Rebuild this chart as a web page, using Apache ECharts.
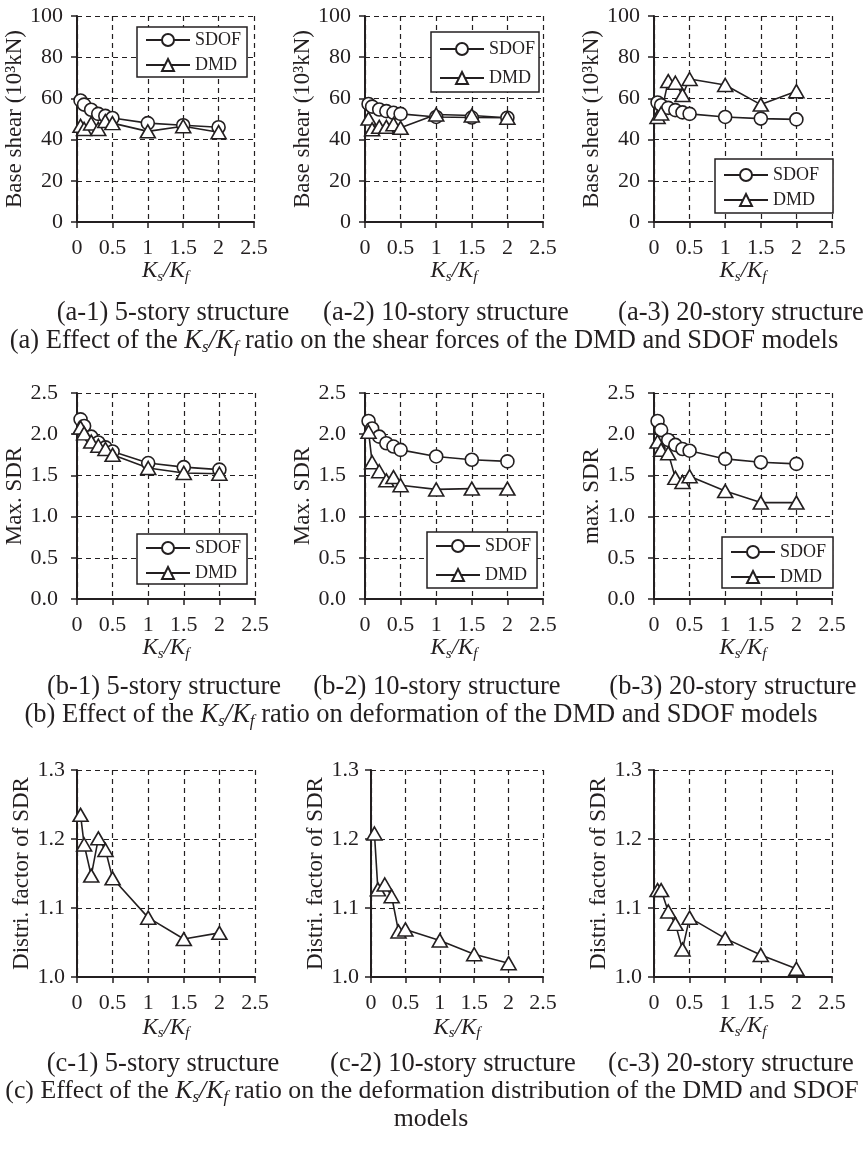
<!DOCTYPE html>
<html>
<head>
<meta charset="utf-8">
<script src="https://cdn.jsdelivr.net/npm/echarts@6/dist/echarts.min.js"></script>
<style>
html, body { margin: 0; padding: 0; background: #fff; }
#main { width: 863px; height: 1150px; }
</style>
</head>
<body>
<div id="main"></div>
<script>
var FONT = '"Liberation Serif", "Times New Roman", serif';
var INK = '#231f20';

// Ks/Kf ratios used in every panel
var ksKf = [0.05, 0.1, 0.2, 0.3, 0.4, 0.5, 1, 1.5, 2];

// (a) base shear, 10^3 kN
var shear5Sdof = [59, 57, 54.5, 52.5, 51.5, 50.5, 48, 47, 46];
var shear5Dmd = [46.7, 45.2, 47.8, 45.2, 49, 48, 44, 46.5, 43.6];
var shear10Sdof = [57.3, 56, 54.6, 53.8, 53, 52.5, 51, 50.7, 50.6];
var shear10Dmd = [50.2, 45, 46.2, 46.2, 47.5, 45.7, 52.2, 51.7, 50.6];
var shear20Sdof = [58, 56.7, 55.4, 54.3, 53.2, 52.5, 51, 50.2, 49.8];
var shear20Dmd = [51, 52.7, 68.4, 67.6, 61.6, 69.4, 66.5, 57, 63.5];

// (b) max. story drift ratio
var sdr5Sdof = [2.18, 2.10, 1.97, 1.90, 1.84, 1.79, 1.65, 1.60, 1.57];
var sdr5Dmd = [2.08, 2.01, 1.91, 1.86, 1.82, 1.75, 1.59, 1.53, 1.52];
var sdr10Sdof = [2.16, 2.07, 1.97, 1.89, 1.85, 1.81, 1.73, 1.69, 1.67];
var sdr10Dmd = [2.03, 1.66, 1.55, 1.44, 1.48, 1.38, 1.33, 1.34, 1.34];
var sdr20Sdof = [2.16, 2.05, 1.93, 1.87, 1.82, 1.80, 1.70, 1.66, 1.64];
var sdr20Dmd = [1.91, 1.81, 1.77, 1.47, 1.42, 1.49, 1.31, 1.17, 1.17];

// (c) distribution factor of SDR (DMD only)
var dist5Dmd = [1.235, 1.192, 1.147, 1.201, 1.184, 1.143, 1.086, 1.055, 1.064];
var dist10Dmd = [1.208, 1.127, 1.134, 1.117, 1.066, 1.069, 1.053, 1.033, 1.020];
var dist20Dmd = [1.126, 1.126, 1.095, 1.077, 1.040, 1.086, 1.056, 1.032, 1.012];

var subCaptions = [
	'(a-1) 5-story structure', '(a-2) 10-story structure', '(a-3) 20-story structure',
	'(b-1) 5-story structure', '(b-2) 10-story structure', '(b-3) 20-story structure',
	'(c-1) 5-story structure', '(c-2) 10-story structure', '(c-3) 20-story structure'
];
var kText = '{i|K}{sub|s}{i|/K}{sub|f}';
var mainCaptions = [
	'(a) Effect of the ' + kText + ' ratio on the shear forces of the DMD and SDOF models',
	'(b) Effect of the ' + kText + ' ratio on deformation of the DMD and SDOF models',
	'(c) Effect of the ' + kText + ' ratio on the deformation distribution of the DMD and SDOF',
	'models'
];

// layout of the nine panels (pixels)
var panels = [
	{grid: [77, 16, 177, 206], row: 'a', yName: 'Base shear (10³kN)', sdof: shear5Sdof, dmd: shear5Dmd, xGap: 34,
		legend: {left: 137, top: 27, padding: [4, 6, 3, 8], itemGap: 7}},
	{grid: [365, 16, 178, 206], row: 'a', yName: 'Base shear (10³kN)', sdof: shear10Sdof, dmd: shear10Dmd, xGap: 34,
		legend: {left: 431, top: 32, padding: [8, 4, 5, 8], itemGap: 11}},
	{grid: [654, 16, 178, 206], row: 'a', yName: 'Base shear (10³kN)', sdof: shear20Sdof, dmd: shear20Dmd, xGap: 34,
		legend: {left: 715, top: 159, padding: [7, 14, 4, 8], itemGap: 7}},
	{grid: [77, 393, 178, 206], row: 'b', yName: 'Max. SDR', sdof: sdr5Sdof, dmd: sdr5Dmd, xGap: 33,
		legend: {left: 137, top: 534, padding: [5, 6, 2, 8], itemGap: 7}},
	{grid: [365, 393, 178, 206], row: 'b', yName: 'Max. SDR', sdof: sdr10Sdof, dmd: sdr10Dmd, xGap: 33,
		legend: {left: 427, top: 532, padding: [5, 6, 4, 8], itemGap: 11}},
	{grid: [654, 393, 178, 206], row: 'b', yName: 'max. SDR', sdof: sdr20Sdof, dmd: sdr20Dmd, xGap: 33,
		legend: {left: 722, top: 537, padding: [6, 7, 2, 8], itemGap: 7}},
	{grid: [77, 770, 178, 207], row: 'c', yName: 'Distri. factor of SDR', dmd: dist5Dmd, xGap: 37},
	{grid: [371, 770, 172, 207], row: 'c', yName: 'Distri. factor of SDR', dmd: dist10Dmd, xGap: 37},
	{grid: [654, 770, 178, 207], row: 'c', yName: 'Distri. factor of SDR', dmd: dist20Dmd, xGap: 33}
];
var yScales = {
	a: {min: 0, max: 100, interval: 20, digits: 0, margin: 14},
	b: {min: 0, max: 2.5, interval: 0.5, digits: 1, margin: 19},
	c: {min: 1, max: 1.3, interval: 0.1, digits: 1, margin: 12}
};
var subPos = [[173, 313], [446, 313], [741, 313], [164, 687], [437, 687], [733, 687], [163, 1064], [453, 1064], [731, 1064]];
var mainPos = [[424, 341, 26.5], [421, 715, 26.5], [432, 1091, 25.8], [431, 1119, 25.8]];

function pairs(ys) {
	return ksKf.map(function(x, i) {
		return [x, ys[i]];
	});
}

function richK(size) {
	return {
		i: {fontFamily: FONT, fontStyle: 'italic', fontSize: size, lineHeight: size + 4, color: INK, fill: INK},
		sub: {fontFamily: FONT, fontStyle: 'italic', fontSize: Math.round(size * 0.66), lineHeight: Math.round(size * 0.66),
			verticalAlign: 'bottom', color: INK, fill: INK}
	};
}

function lineSeries(name, symbol, size, k, ys) {
	return {
		type: 'line',
		name: name,
		xAxisIndex: k,
		yAxisIndex: k,
		data: pairs(ys),
		symbol: symbol,
		symbolSize: size,
		showAllSymbol: true,
		lineStyle: {color: INK, width: 1.6},
		itemStyle: {color: '#fff', borderColor: INK, borderWidth: 1.6},
		emphasis: {disabled: true},
		z: 3
	};
}

var dashed = {type: [5, 4], color: INK, width: 1.2};
var solid = {color: INK, width: 2};

var option = {
	animation: false,
	backgroundColor: '#fff',
	grid: [],
	xAxis: [],
	yAxis: [],
	series: [],
	legend: [],
	graphic: []
};

panels.forEach(function(p, k) {
	var ys = yScales[p.row];
	option.grid.push({
		left: p.grid[0], top: p.grid[1], width: p.grid[2], height: p.grid[3],
		containLabel: false, outerBoundsMode: 'none'
	});
	option.xAxis.push({
		type: 'value', gridIndex: k, min: 0, max: 2.5, interval: 0.5,
		name: kText, nameLocation: 'middle', nameGap: p.xGap,
		nameTextStyle: {fontFamily: FONT, fontSize: 23, color: INK, rich: richK(23)},
		axisLine: {onZero: false, lineStyle: solid},
		axisTick: {show: true, inside: false, length: 6, lineStyle: {color: INK, width: 1.5}},
		axisLabel: {margin: 15, fontFamily: FONT, fontSize: 22, color: INK},
		splitLine: {show: true, lineStyle: dashed}
	});
	option.yAxis.push({
		type: 'value', gridIndex: k, min: ys.min, max: ys.max, interval: ys.interval,
		name: p.yName, nameLocation: 'middle', nameGap: 38,
		nameTextStyle: {fontFamily: FONT, fontSize: 23, color: INK},
		axisLine: {show: true, onZero: false, lineStyle: solid},
		axisTick: {show: true, inside: false, length: 6, lineStyle: {color: INK, width: 1.5}},
		axisLabel: {
			margin: ys.margin, fontFamily: FONT, fontSize: 22, color: INK,
			formatter: function(v) {
				return v.toFixed(ys.digits);
			}
		},
		splitLine: {show: true, lineStyle: dashed}
	});
	if (p.sdof) {
		option.series.push(lineSeries('SDOF', 'circle', 13, k, p.sdof));
	}
	option.series.push(lineSeries('DMD', 'triangle', [15, 13], k, p.dmd));
	if (p.legend) {
		option.legend.push({
			data: ['SDOF', 'DMD'],
			orient: 'vertical',
			left: p.legend.left,
			top: p.legend.top,
			padding: p.legend.padding,
			itemGap: p.legend.itemGap,
			itemWidth: 44,
			itemHeight: 15,
			borderColor: INK,
			borderWidth: 1.5,
			backgroundColor: '#fff',
			selectedMode: false,
			textStyle: {fontFamily: FONT, fontSize: 18, color: INK}
		});
	}
});

subCaptions.forEach(function(t, i) {
	option.graphic.push({
		type: 'text', x: subPos[i][0], y: subPos[i][1], silent: true,
		style: {text: t, fontFamily: FONT, fontSize: 26.5, fill: INK, align: 'center', verticalAlign: 'middle'}
	});
});
mainCaptions.forEach(function(t, i) {
	var size = mainPos[i][2];
	option.graphic.push({
		type: 'text', x: mainPos[i][0], y: mainPos[i][1], silent: true,
		style: {text: t, fontFamily: FONT, fontSize: size, fill: INK, align: 'center', verticalAlign: 'middle', rich: richK(size)}
	});
});

var myChart = echarts.init(document.getElementById('main'), null, {renderer: 'canvas'});
myChart.setOption(option);
</script>
</body>
</html>
